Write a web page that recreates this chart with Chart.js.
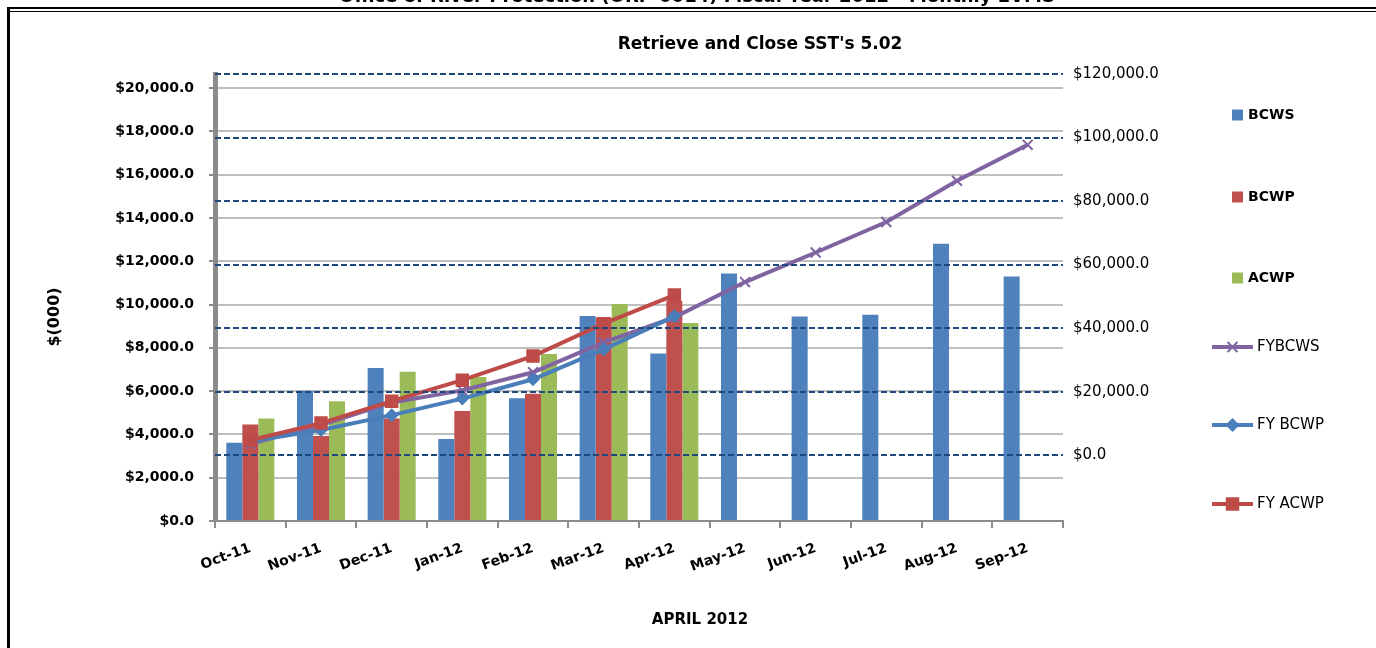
<!DOCTYPE html>
<html>
<head>
<meta charset="utf-8">
<title>Retrieve and Close SST's 5.02</title>
<script src="https://cdn.jsdelivr.net/npm/chart.js@4.4.0/dist/chart.umd.min.js"></script>
<style>
    html, body { margin: 0; padding: 0; background: #fff; }
    #wrap { position: relative; width: 1376px; height: 648px; overflow: hidden; }
    #chart { position: absolute; left: 0; top: 0; }
    .header {
        position: absolute; left: 0; width: 1394px; top: -15px;
        text-align: center; white-space: nowrap;
        font: bold 18px "DejaVu Sans", sans-serif; color: #000;
    }
    .rule { position: absolute; background: #000; }
</style>
</head>
<body>
<div id="wrap">
    <canvas id="chart" width="1376" height="648"></canvas>
    <div class="header">Office of River Protection (ORP-0014) Fiscal Year 2012 - Monthly EVMS</div>
    <div class="rule" style="left:7px; right:0; top:7px; height:2px;"></div>
    <div class="rule" style="left:7px; right:0; top:11px; height:1px;"></div>
    <div class="rule" style="left:7px; top:7px; bottom:0; width:3px;"></div>
</div>
<script>
const FONT = '"DejaVu Sans", sans-serif';

const chartTitle = "Retrieve and Close SST's 5.02";
const xTitle = 'APRIL 2012';
const yTitle = '$(000)';

const months = ['Oct-11', 'Nov-11', 'Dec-11', 'Jan-12', 'Feb-12', 'Mar-12',
    'Apr-12', 'May-12', 'Jun-12', 'Jul-12', 'Aug-12', 'Sep-12'];

// monthly values, $(000), left axis
const bcws = [3610, 6020, 7070, 3790, 5670, 9470, 7740, 11430, 9450, 9530, 12810, 11290];
const bcwp = [4460, 3930, 4740, 5080, 5880, 9400, 10180, null, null, null, null, null];
const acwp = [4730, 5530, 6900, 6650, 7710, 10030, 9150, null, null, null, null, null];

// fiscal year cumulative values, right axis
const fyBcws = [3600, 9500, 16600, 20400, 26100, 35500, 43400, 54500, 63800, 73400, 86400, 97700];
const fyBcwp = [4400, 7900, 12600, 17800, 23900, 33300, 43700, null, null, null, null, null];
const fyAcwp = [4700, 10100, 17000, 23600, 31200, 41400, 50400, null, null, null, null, null];

const leftTicks = [0, 2000, 4000, 6000, 8000, 10000, 12000, 14000, 16000, 18000, 20000];
const rightTicks = [0, 20000, 40000, 60000, 80000, 100000, 120000];

const money = v => '$' + Number(v).toLocaleString('en-US', { minimumFractionDigits: 1, maximumFractionDigits: 1 });

function drawMarker(ctx, style, x, y, r, color) {
    ctx.save();
    ctx.fillStyle = color;
    ctx.strokeStyle = color;
    ctx.beginPath();
    if (style === 'rect') {
        const s = r * Math.SQRT1_2;
        ctx.rect(x - s, y - s, 2 * s, 2 * s);
        ctx.fill();
    } else if (style === 'rectRot') {
        ctx.moveTo(x - r, y); ctx.lineTo(x, y - r); ctx.lineTo(x + r, y); ctx.lineTo(x, y + r);
        ctx.closePath();
        ctx.fill();
    } else if (style === 'crossRot') {
        const s = r * Math.SQRT1_2;
        ctx.lineWidth = 2;
        ctx.moveTo(x - s, y - s); ctx.lineTo(x + s, y + s);
        ctx.moveTo(x - s, y + s); ctx.lineTo(x + s, y - s);
        ctx.stroke();
    }
    ctx.restore();
}

// titles and the spaced-out legend on the right
const overlay = {
    id: 'overlay',
    afterDraw(chart) {
        const ctx = chart.ctx;
        ctx.save();
        ctx.fillStyle = '#000';
        ctx.textBaseline = 'middle';
        ctx.textAlign = 'center';
        ctx.font = 'bold 17px ' + FONT;
        ctx.fillText(chartTitle, 760, 45);
        ctx.font = 'bold 15px ' + FONT;
        ctx.fillText(xTitle, 700, 620);
        ctx.save();
        ctx.translate(55, 317);
        ctx.rotate(-Math.PI / 2);
        ctx.font = 'bold 16px ' + FONT;
        ctx.fillText(yTitle, 0, 0);
        ctx.restore();

        const rows = [115, 197, 278, 347, 425, 504];
        ctx.textAlign = 'left';
        chart.data.datasets.forEach((ds, i) => {
            const y = rows[i];
            if (ds.type === 'line') {
                ctx.strokeStyle = ds.borderColor;
                ctx.lineWidth = 4;
                ctx.beginPath();
                ctx.moveTo(1212, y);
                ctx.lineTo(1253, y);
                ctx.stroke();
                drawMarker(ctx, ds.pointStyle, 1232.5, y, ds.pointRadius, ds.borderColor);
                ctx.fillStyle = '#000';
                ctx.font = '15px ' + FONT;
                ctx.fillText(ds.label, 1257, y);
            } else {
                ctx.fillStyle = ds.backgroundColor;
                ctx.fillRect(1232, y - 5.5, 11, 11);
                ctx.fillStyle = '#000';
                ctx.font = 'bold 14px ' + FONT;
                ctx.fillText(ds.label, 1248, y);
            }
        });
        ctx.restore();
    }
};

new Chart(document.getElementById('chart'), {
    type: 'bar',
    data: {
        labels: months,
        datasets: [
            { label: 'BCWS', data: bcws, backgroundColor: '#4F81BD', yAxisID: 'y', order: 4 },
            { label: 'BCWP', data: bcwp, backgroundColor: '#C0504D', yAxisID: 'y', order: 4 },
            { label: 'ACWP', data: acwp, backgroundColor: '#9BBB59', yAxisID: 'y', order: 4 },
            {
                type: 'line', label: 'FYBCWS', data: fyBcws, yAxisID: 'y2', order: 3,
                borderColor: '#8064A2', backgroundColor: '#8064A2', borderWidth: 4, tension: 0,
                pointStyle: 'crossRot', pointRadius: 7, pointBorderWidth: 2
            },
            {
                type: 'line', label: 'FY BCWP', data: fyBcwp, yAxisID: 'y2', order: 2,
                borderColor: '#4A7EBB', backgroundColor: '#4A7EBB', borderWidth: 4, tension: 0,
                pointStyle: 'rectRot', pointRadius: 7, pointBorderWidth: 0
            },
            {
                type: 'line', label: 'FY ACWP', data: fyAcwp, yAxisID: 'y2', order: 1,
                borderColor: '#BE4B48', backgroundColor: '#BE4B48', borderWidth: 4, tension: 0,
                pointStyle: 'rect', pointRadius: 9.5, pointBorderWidth: 0
            }
        ]
    },
    options: {
        responsive: false,
        animation: false,
        categoryPercentage: 0.68,
        barPercentage: 1.0,
        layout: { padding: { left: 0, right: 163, top: 74, bottom: 0 } },
        plugins: {
            legend: { display: false },
            title: { display: false },
            tooltip: { enabled: false }
        },
        scales: {
            x: {
                offset: true,
                grid: { offset: true, drawOnChartArea: false, color: '#8c8c8c', lineWidth: 2, tickLength: 7 },
                border: { color: '#8c8c8c', width: 2 },
                ticks: {
                    color: '#000', autoSkip: false, minRotation: 20, maxRotation: 20, padding: 12,
                    font: { family: FONT, size: 14, weight: 'bold' }
                },
                afterFit: s => { s.height = 127; }
            },
            y: {
                position: 'left', min: 0, max: 20650,
                afterBuildTicks: s => { s.ticks = leftTicks.map(v => ({ value: v })); },
                grid: { color: '#bfbfbf', lineWidth: 2, tickLength: 6, tickColor: '#8c8c8c' },
                border: { color: '#8c8c8c', width: 5 },
                ticks: {
                    color: '#000', padding: 15, callback: v => money(v),
                    font: { family: FONT, size: 14, weight: 'bold' }
                },
                afterFit: s => { s.width = 215; }
            },
            y2: {
                position: 'right', min: -20730, max: 120000,
                afterBuildTicks: s => { s.ticks = rightTicks.map(v => ({ value: v })); },
                grid: { color: '#1F497D', lineWidth: 2, drawTicks: false, z: 1 },
                border: { display: false, dash: [6, 3] },
                ticks: {
                    color: '#000', padding: 10, callback: v => money(v),
                    font: { family: FONT, size: 15 }
                },
                afterFit: s => { s.width = 150; }
            }
        }
    },
    plugins: [overlay]
});
</script>
</body>
</html>
